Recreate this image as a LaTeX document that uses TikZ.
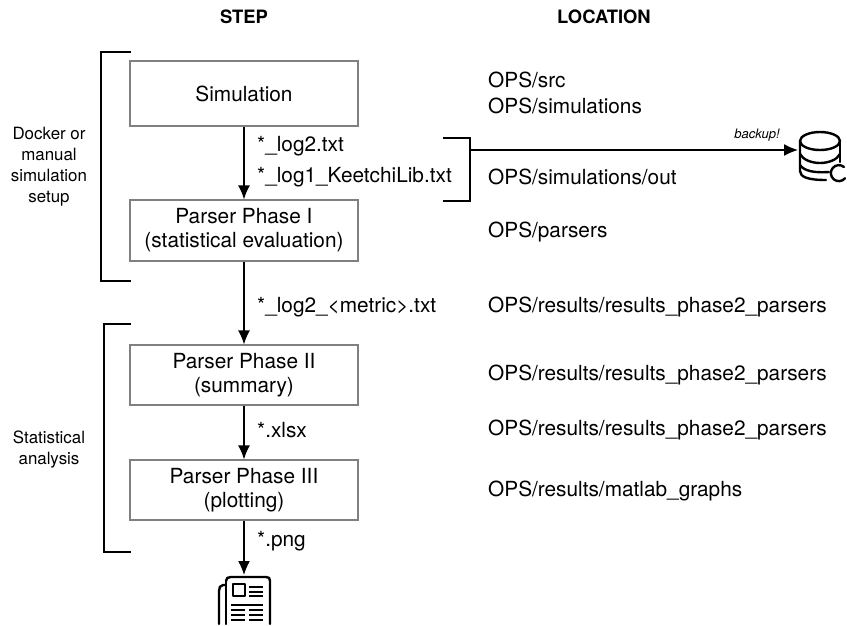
\documentclass[tikz,border=0pt]{standalone}
\usepackage{fontspec}
\setmainfont{TeX Gyre Heros}
\usetikzlibrary{arrows.meta,positioning}

\begin{document}
\begin{tikzpicture} [
      x = 1pt, y = -1pt,
      stepbox/.style = { draw = black!50, line width = 1.3pt, minimum width = 228pt, minimum height = 60pt, align = center, font = \fontsize{20.8}{24}\selectfont },
      txt/.style = { anchor = west, inner sep = 0, font = \fontsize{20.8}{24}\selectfont, align = left },
      side/.style = { inner sep = 0, align = center, font = \fontsize{16.9}{21}\selectfont },
      head/.style = { inner sep = 0, font = \fontsize{18.4}{22}\selectfont\bfseries },
      flow/.style = { -{Latex[length = 14pt, width = 12pt]}, line width = 1.3pt },
      brace/.style = { line width = 1.3pt },
      icon/.style = { line width = 2.4pt, line cap = round, line join = round },
      rule/.style = { line width = 1.4pt }
      ]

      \useasboundingbox (0,0) rectangle (847,625);

      \node [head] (step) at (244,17) {STEP};
      \node [head] (location) at (604,17) {LOCATION};

      \node [stepbox, minimum height = 65pt] (sim) at (244,93.5) {Simulation};
      \node [stepbox, minimum height = 61pt] (p1) at (244,230.5) {Parser Phase I\\(statistical evaluation)};
      \node [stepbox] (p2) at (244,375) {Parser Phase II\\(summary)};
      \node [stepbox] (p3) at (244,490) {Parser Phase III\\(plotting)};
      \coordinate (paper) at (244,575);

      \draw [flow] (sim) -- (p1);
      \draw [flow] (p1) -- (p2);
      \draw [flow] (p2) -- (p3);
      \draw [flow] (p3) -- (paper);

      \node [txt] (log2) at (257,146) {*\_log2.txt};
      \node [txt] (log1) at (257,177) {*\_log1\_KeetchiLib.txt};
      \node [txt] (metric) at (257,307) {*\_log2\_<metric>.txt};
      \node [txt] (xlsx) at (257,430) {*.xlsx};
      \node [txt] (png) at (257,541) {*.png};

      \node [txt] (lsrc) at (488,80) {OPS/src};
      \node [txt] (lsims) at (488,106) {OPS/simulations};
      \node [txt] (lout) at (488,177) {OPS/simulations/out};
      \node [txt] (lpars) at (488,232) {OPS/parsers};
      \node [txt] (lres1) at (488,307) {OPS/results/results\_phase2\_parsers};
      \node [txt] (lres2) at (488,375) {OPS/results/results\_phase2\_parsers};
      \node [txt] (lres3) at (488,430) {OPS/results/results\_phase2\_parsers};
      \node [txt] (lmat) at (488,491) {OPS/results/matlab\_graphs};

      \node [side] (docker) at (49,167) {Docker or\\manual\\simulation\\setup};
      \node [side] (stats) at (49,450) {Statistical\\analysis};

      \draw [brace] (131,52) -- (101,52) -- (101,281) -- (131,281);
      \draw [brace] (131,324) -- (104,324) -- (104,552) -- (131,552);
      \draw [brace] (443,138) -- (470,138) -- (470,201) -- (443,201);

      \coordinate (out) at (470,150);
      \coordinate (db) at (798,150);
      \draw [flow] (out) -- (db);
      \node [inner sep = 0, font = \fontsize{13}{15}\selectfont\itshape] (backup) at (757,135) {backup!};

      % database
      \draw [icon] (820,141) ellipse (20 and 9);
      \draw [icon] (800,141) -- (800,171) .. controls (800,177) and (808,180) .. (826,180);
      \draw [icon] (840,141) -- (840,162);
      \draw [icon] (800,154) .. controls (803,160) and (812,163) .. (820,163) .. controls (828,163) and (837,160) .. (840,154);
      \draw [icon] (800,165) .. controls (804,171) and (814,173) .. (829,172);
      \draw [icon] (844,167) arc (-50:-320:8);

      % paper
      \draw [icon] (226,581) .. controls (226,578) and (228,577) .. (231,577) -- (266,577) .. controls (269,577) and (270,578) .. (270,581) -- (270,624);
      \draw [icon] (226,581) -- (226,624);
      \draw [icon] (226,585) -- (223,585) .. controls (220,585) and (219,588) .. (219,591) -- (219,624);
      \draw [icon, line cap = butt] (233,584) rectangle (245,596);
      \foreach \ypos in {587,592,596} { \draw [rule] (249,\ypos) -- (263,\ypos); }
      \draw [rule] (231,605) -- (263,605);
      \foreach \ypos in {610,615,620} { \draw [rule] (231,\ypos) -- (245,\ypos); \draw [rule] (249,\ypos) -- (263,\ypos); }
    \end{tikzpicture}
\end{document}
